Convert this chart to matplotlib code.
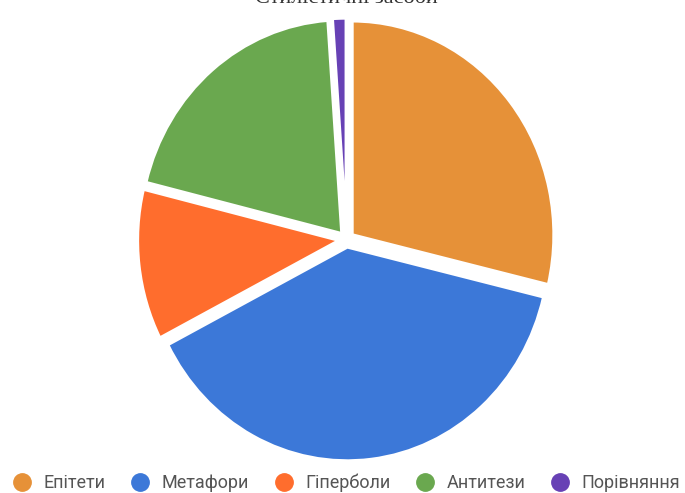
import matplotlib
matplotlib.use("Agg")
import matplotlib.pyplot as plt
from matplotlib.lines import Line2D

# data (percent of total)
labels = ['Епітети', 'Метафори', 'Гіперболи', 'Антитези', 'Порівняння']
shares = [28.75, 38.7, 11.4, 20.05, 1.1]
colors = ['#E69138', '#3C78D8', '#FF6D2D', '#6AA84F', '#6741B5']
title = 'Стилістичні засоби'

fig = plt.figure(figsize=(6.85, 4.93), dpi=100)

# axes placed so the pie is slightly taller than wide, like the reference
ax = fig.add_axes([0.1667, 0.015, 0.6782, 0.9984])
ax.pie(shares, colors=colors, startangle=90, counterclock=False,
       explode=[0.035] * len(shares),
       wedgeprops=dict(edgecolor='white', linewidth=2.4))
ax.set_aspect('auto')
ax.set_xlim(-1.15, 1.15)
ax.set_ylim(-1.15, 1.15)
ax.axis('off')

# title is cut off at the top edge in the reference, only its bottom shows
fig.text(0.505, 1.0 - 3 / 493, title, ha='center', va='baseline',
         fontsize=16, family='Liberation Serif', color='#333333')

handles = [Line2D([], [], marker='o', linestyle='', markersize=12.5,
                  markerfacecolor=c, markeredgecolor=c) for c in colors]
fig.legend(handles, labels, loc='center', bbox_to_anchor=(0.506, 1 - 483 / 493),
           ncol=5, frameon=False, handlelength=1.0, handletextpad=0.7,
           columnspacing=1.4, prop=dict(family='Roboto', size=13),
           labelcolor='#555555', borderaxespad=0, borderpad=0)

fig.savefig('out.png', dpi=100)
